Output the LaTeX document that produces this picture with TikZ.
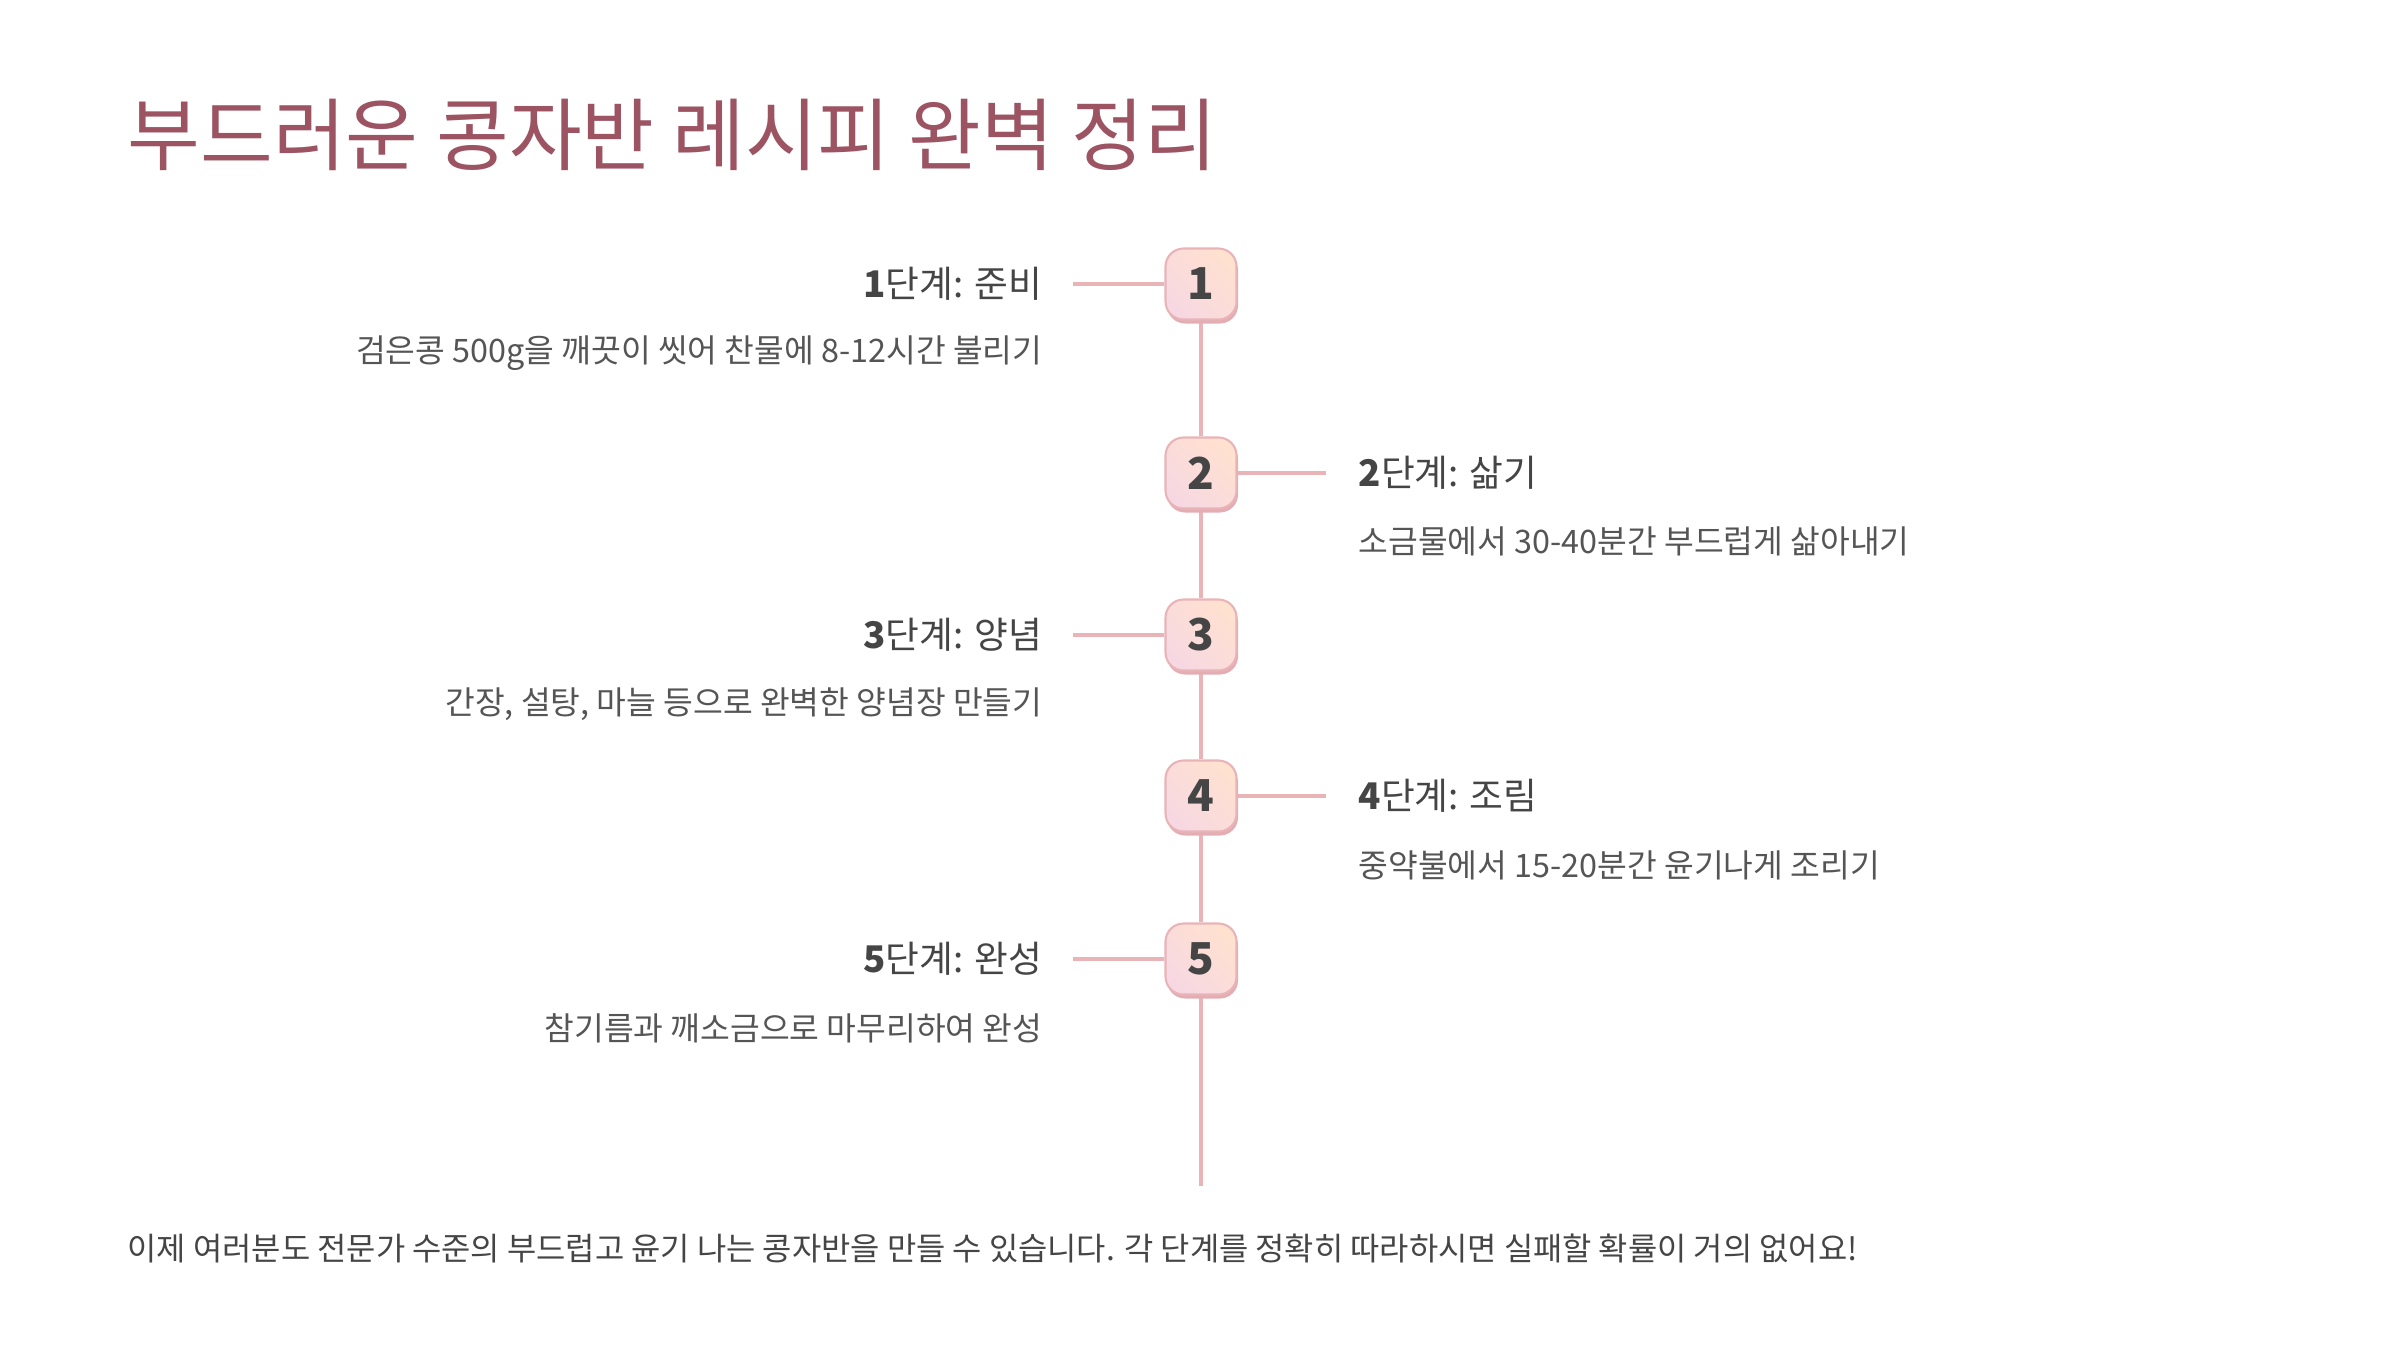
\documentclass[tikz,border=0pt]{standalone}
\usepackage{fontspec}
\setmainfont{Noto Sans CJK KR}
\usetikzlibrary{positioning,shadows,backgrounds}

\definecolor{titlerose}{HTML}{9C5463}
\definecolor{linepink}{HTML}{E8B4B8}
\definecolor{shadowpink}{HTML}{E4ADB3}
\definecolor{textdark}{HTML}{454545}
\definecolor{textgray}{HTML}{555555}
\definecolor{boxpeach}{HTML}{FFE1D0}
\definecolor{boxpink}{HTML}{FFCCD2}
\definecolor{boxlilac}{HTML}{F7D8E2}

\begin{document}
\begin{tikzpicture}[
  stepno/.style={rectangle, rounded corners=0.18cm, draw=linepink, line width=0.6pt,
                 minimum width=0.71cm, minimum height=0.71cm, inner sep=0pt,
                 top color=boxpeach, middle color=boxpink, bottom color=boxlilac, shading angle=-45,
                 drop shadow={shadow xshift=0.015cm, shadow yshift=-0.04cm, fill=shadowpink, opacity=1},
                 font=\fontsize{12.5}{14}\selectfont\bfseries, text=textdark},
  steptitle/.style={font=\fontsize{10.45}{12}\selectfont, text=textdark, inner sep=0pt},
  stepdesc/.style={font=\fontsize{9.2}{11}\selectfont, text=textgray, inner sep=0pt},
  link/.style={draw=linepink, line width=1.15pt}
]
\useasboundingbox (0,0) rectangle (24,-13.62);

% title
\node[anchor=west, inner sep=0pt, text=titlerose, font=\fontsize{22.5}{27}\selectfont] (title) at (1.27,-1.35) {부드러운 콩자반 레시피 완벽 정리};

% step boxes
\node[stepno] (s1) at (12.01,-2.84) {1};
\node[stepno] (s2) at (12.01,-4.73) {2};
\node[stepno] (s3) at (12.01,-6.35) {3};
\node[stepno] (s4) at (12.01,-7.96) {4};
\node[stepno] (s5) at (12.01,-9.59) {5};

% step texts
\node[steptitle, anchor=east] (t1) at (10.43,-2.84) {\textbf{1}단계: 준비};
\node[stepdesc,  anchor=east] (d1) at (10.43,-3.53) {검은콩 500g을 깨끗이 씻어 찬물에 8-12시간 불리기};
\node[steptitle, anchor=west] (t2) at (13.58,-4.73) {\textbf{2}단계: 삶기};
\node[stepdesc,  anchor=west] (d2) at (13.58,-5.41) {소금물에서 30-40분간 부드럽게 삶아내기};
\node[steptitle, anchor=east] (t3) at (10.43,-6.35) {\textbf{3}단계: 양념};
\node[stepdesc,  anchor=east] (d3) at (10.43,-7.04) {간장, 설탕, 마늘 등으로 완벽한 양념장 만들기};
\node[steptitle, anchor=west] (t4) at (13.58,-7.96) {\textbf{4}단계: 조림};
\node[stepdesc,  anchor=west] (d4) at (13.58,-8.65) {중약불에서 15-20분간 윤기나게 조리기};
\node[steptitle, anchor=east] (t5) at (10.43,-9.59) {\textbf{5}단계: 완성};
\node[stepdesc,  anchor=east] (d5) at (10.43,-10.28) {참기름과 깨소금으로 마무리하여 완성};

% free ends of the connectors
\coordinate (c1) at (10.73,-2.84);
\coordinate (c2) at (13.26,-4.73);
\coordinate (c3) at (10.73,-6.35);
\coordinate (c4) at (13.26,-7.96);
\coordinate (c5) at (10.73,-9.59);
\coordinate (tail) at (12.01,-11.86);

\begin{scope}[on background layer]
\draw[link] (c1) -- (s1);
\draw[link] (s2) -- (c2);
\draw[link] (c3) -- (s3);
\draw[link] (s4) -- (c4);
\draw[link] (c5) -- (s5);
\draw[link] (s1) -- (s2) -- (s3) -- (s4) -- (s5) -- (tail);
\end{scope}

% closing line
\node[anchor=west, inner sep=0pt, text=textdark, font=\fontsize{9.05}{11}\selectfont] (note) at (1.27,-12.48) {이제 여러분도 전문가 수준의 부드럽고 윤기 나는 콩자반을 만들 수 있습니다. 각 단계를 정확히 따라하시면 실패할 확률이 거의 없어요!};
\end{tikzpicture}
\end{document}
